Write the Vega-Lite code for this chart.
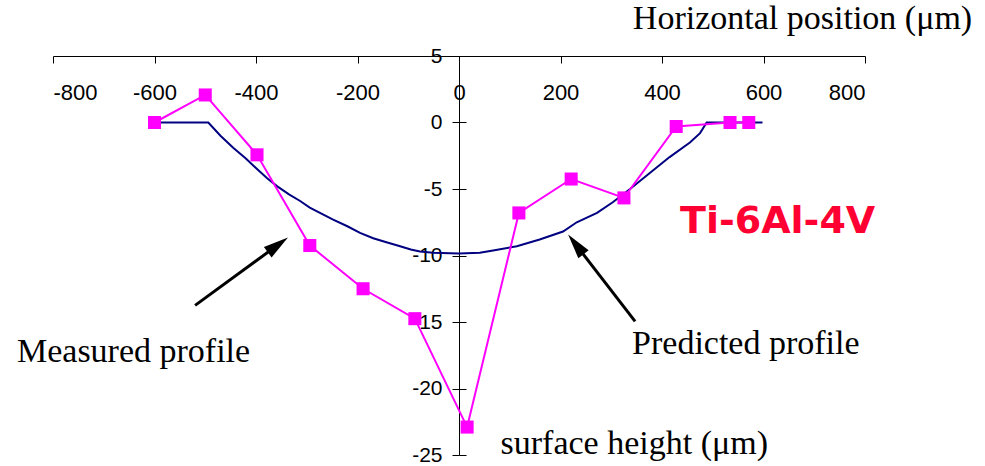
{
  "$schema": "https://vega.github.io/schema/vega-lite/v6.json",
  "width": 812,
  "height": 399,
  "autosize": "none",
  "padding": {"left": 53, "top": 56, "right": 120, "bottom": 11},
  "background": "white",
  "config": {
    "view": {"stroke": null},
    "axis": {"grid": false, "domainColor": "black", "tickColor": "black", "labelColor": "black", "titleColor": "black", "domainWidth": 1, "tickWidth": 1}
  },
  "datasets": {
    "predicted": [
      {"x": -600, "y": 0}, {"x": -494, "y": 0}, {"x": -470, "y": -1.0}, {"x": -445, "y": -1.9},
      {"x": -420, "y": -2.7}, {"x": -398, "y": -3.5}, {"x": -378, "y": -4.2}, {"x": -358, "y": -4.8},
      {"x": -335, "y": -5.4}, {"x": -313, "y": -5.9}, {"x": -294, "y": -6.4}, {"x": -274, "y": -6.8},
      {"x": -248, "y": -7.3}, {"x": -220, "y": -7.8}, {"x": -195, "y": -8.3}, {"x": -169, "y": -8.7},
      {"x": -143, "y": -9.0}, {"x": -116, "y": -9.3}, {"x": -95, "y": -9.55}, {"x": -77, "y": -9.7},
      {"x": -51, "y": -9.8}, {"x": 0, "y": -9.85}, {"x": 41, "y": -9.8}, {"x": 70, "y": -9.6},
      {"x": 114, "y": -9.3}, {"x": 159, "y": -8.8}, {"x": 205, "y": -8.2}, {"x": 232, "y": -7.5},
      {"x": 272, "y": -6.8}, {"x": 303, "y": -6.0}, {"x": 337, "y": -5.0}, {"x": 376, "y": -3.8},
      {"x": 415, "y": -2.6}, {"x": 455, "y": -1.5}, {"x": 475, "y": -0.8}, {"x": 488, "y": 0},
      {"x": 598, "y": 0}
    ],
    "measured": [
      {"x": -600, "y": 0}, {"x": -500, "y": 2.07}, {"x": -398, "y": -2.43}, {"x": -294, "y": -9.25},
      {"x": -189, "y": -12.5}, {"x": -87, "y": -14.75}, {"x": 16, "y": -22.9}, {"x": 118, "y": -6.8},
      {"x": 221, "y": -4.25}, {"x": 325, "y": -5.67}, {"x": 428, "y": -0.3}, {"x": 534, "y": 0},
      {"x": 571, "y": 0}
    ],
    "arrows": [
      {"x": -520, "y": -13.75, "x2": -361, "y2": -9.32},
      {"x": 347, "y": -14.95, "x2": 233, "y2": -9.32}
    ],
    "heads": [
      {"x": -337, "y": -8.65, "angle": 54},
      {"x": 215, "y": -8.43, "angle": 322}
    ],
    "labels": [
      {"x": -871, "y": -18.03, "text": "Measured profile"},
      {"x": 341, "y": -17.43, "text": "Predicted profile"}
    ],
    "material": [
      {"x": 435.5, "y": -8.28, "text": "Ti-6Al-4V"}
    ]
  },
  "resolve": {"axis": {"y": "independent"}},
  "layer": [
    {
      "data": {"name": "predicted"},
      "mark": {"type": "line", "color": "#000080", "strokeWidth": 2},
      "encoding": {
        "x": {
          "field": "x", "type": "quantitative",
          "scale": {"domain": [-800, 800], "nice": false, "zero": false},
          "axis": {
            "orient": "bottom", "offset": -399,
            "values": [-800, -600, -400, -200, 0, 200, 400, 600, 800],
            "labelExpr": "'' + datum.value",
            "tickSize": 7, "labelPadding": 29, "labelBaseline": "middle",
            "labelFont": "Liberation Sans", "labelFontSize": 22,
            "title": "Horizontal position (μm)",
            "titleFont": "Liberation Serif", "titleFontSize": 34, "titleFontWeight": "normal",
            "titleX": 749, "titleY": -28, "titleAlign": "center", "titleBaseline": "alphabetic", "titleAngle": 0
          }
        },
        "y": {
          "field": "y", "type": "quantitative",
          "scale": {"domain": [-25, 5], "nice": false, "zero": false},
          "axis": {
            "orient": "left", "offset": -406,
            "values": [-25, -20, -15, -10, -5, 0, 5],
            "labelExpr": "'' + datum.value",
            "tickSize": 7, "labelPadding": 10,
            "labelFont": "Liberation Sans", "labelFontSize": 21,
            "title": "surface height (μm)",
            "titleFont": "Liberation Serif", "titleFontSize": 34, "titleFontWeight": "normal",
            "titleX": 41, "titleY": 397, "titleAlign": "left", "titleBaseline": "alphabetic", "titleAngle": 0
          }
        }
      }
    },
    {
      "data": {"name": "measured"},
      "mark": {"type": "line", "color": "#ff00ff", "strokeWidth": 2},
      "encoding": {
        "x": {"field": "x", "type": "quantitative"},
        "y": {
          "field": "y", "type": "quantitative",
          "axis": {
            "orient": "right", "offset": -406,
            "values": [-25, -20, -15, -10, -5, 0, 5],
            "tickSize": 7, "labels": false, "domain": false, "title": null
          }
        }
      }
    },
    {
      "data": {"name": "measured"},
      "mark": {"type": "point", "shape": "square", "filled": true, "color": "#ff00ff", "size": 170, "opacity": 1},
      "encoding": {
        "x": {"field": "x", "type": "quantitative"},
        "y": {"field": "y", "type": "quantitative", "axis": null}
      }
    },
    {
      "data": {"name": "arrows"},
      "mark": {"type": "rule", "color": "black", "strokeWidth": 3},
      "encoding": {
        "x": {"field": "x", "type": "quantitative"},
        "y": {"field": "y", "type": "quantitative", "axis": null},
        "x2": {"field": "x2"},
        "y2": {"field": "y2"}
      }
    },
    {
      "data": {"name": "heads"},
      "mark": {"type": "point", "shape": "M0,0L0.26,1L-0.26,1Z", "filled": true, "color": "black", "size": 2500, "opacity": 1},
      "encoding": {
        "x": {"field": "x", "type": "quantitative"},
        "y": {"field": "y", "type": "quantitative", "axis": null},
        "angle": {"field": "angle", "type": "quantitative", "scale": null}
      }
    },
    {
      "data": {"name": "labels"},
      "mark": {"type": "text", "align": "left", "baseline": "alphabetic", "font": "Liberation Serif", "fontSize": 34, "color": "black"},
      "encoding": {
        "x": {"field": "x", "type": "quantitative"},
        "y": {"field": "y", "type": "quantitative", "axis": null},
        "text": {"field": "text"}
      }
    },
    {
      "data": {"name": "material"},
      "mark": {"type": "text", "align": "left", "baseline": "alphabetic", "font": "DejaVu Sans", "fontWeight": "bold", "fontSize": 38, "color": "#ff0033"},
      "encoding": {
        "x": {"field": "x", "type": "quantitative"},
        "y": {"field": "y", "type": "quantitative", "axis": null},
        "text": {"field": "text"}
      }
    }
  ]
}
